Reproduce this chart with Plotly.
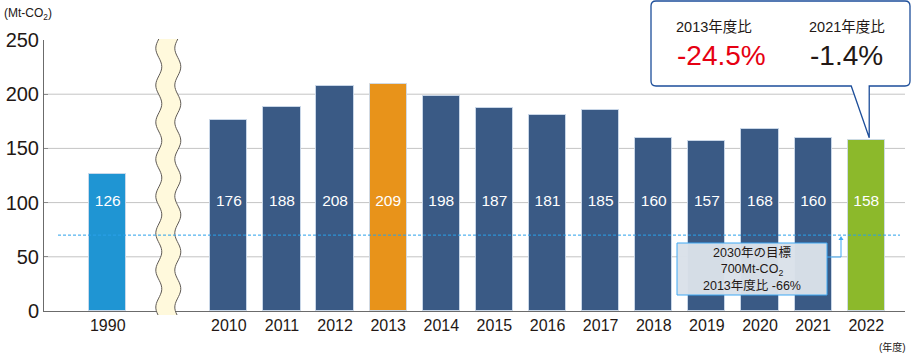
import math
import plotly.graph_objects as go

# ---------------- data ----------------
years = ["1990", "2010", "2011", "2012", "2013", "2014", "2015", "2016",
         "2017", "2018", "2019", "2020", "2021", "2022"]
emissions = [126, 176, 188, 208, 209, 198, 187, 181, 185, 160, 157, 168, 160, 158]
target_2030 = 70
y_ticks = [0, 50, 100, 150, 200, 250]
ratio_2013 = "-24.5%"
ratio_2021 = "-1.4%"
target_lines = ["2030年の目標", "700Mt-CO<sub>2</sub>", "2013年度比 -66%"]

# ---------------- layout helpers ----------------
W, H = 911, 355
ML, MR, MT, MB = 44, 6, 40, 44
PW, PH = W - ML - MR, H - MT - MB
Y_MAX = 250
GAP = 2.28                      # gap (in bar units) after 1990 for the axis break
xs = [0.0] + [GAP + i for i in range(len(years) - 1)]
X_RANGE = [-1.2, xs[-1] + 0.73]

def px_x(px):
    return (px - ML) / PW

def px_y(py):
    return (H - MB - py) / PH

def val_to_py(v):
    return H - MB - v / Y_MAX * PH

def x_to_px(x):
    return ML + (x - X_RANGE[0]) / (X_RANGE[1] - X_RANGE[0]) * PW

def color_for(year):
    if year == "1990":
        return "#1f95d3"
    if year == "2013":
        return "#e8931a"
    if year == "2022":
        return "#8cb92b"
    return "#3a5a85"

FONT = "Liberation Sans, Arial, Noto Sans CJK JP, sans-serif"
DARK = "#231815"

fig = go.Figure()
fig.add_trace(go.Bar(
    x=xs, y=emissions, width=0.7,
    marker=dict(color=[color_for(y) for y in years],
                line=dict(color="rgba(205,218,235,0.9)", width=1)),
    hoverinfo="skip", showlegend=False,
))
fig.add_trace(go.Scatter(
    x=xs, y=[100] * len(xs), mode="text",
    text=[str(v) for v in emissions],
    textfont=dict(color="white", size=15.5, family=FONT),
    hoverinfo="skip", showlegend=False,
))

shapes = []
# grid lines (no line at the top value)
for v in y_ticks:
    if 0 < v < Y_MAX:
        shapes.append(dict(type="line", xref="paper", yref="y", x0=0, x1=1, y0=v, y1=v,
                           line=dict(color="#c4c4c4", width=1), layer="below"))

# axis break (wavy band)
brk_c = (x_to_px(xs[0]) + x_to_px(xs[1])) / 2
top, bot = MT - 1, H - MB + 4
amp, period, half_w = 3.0, 37.0, 9.5
n = 120
left_pts, right_pts = [], []
for i in range(n + 1):
    py = top + (bot - top) * i / n
    off = amp * math.sin(2 * math.pi * (py - top) / period + math.pi)
    left_pts.append((brk_c - half_w + off, py))
    right_pts.append((brk_c + half_w + off, py))

def path_of(pts):
    return "M " + " L ".join(f"{px_x(a):.5f},{px_y(b):.5f}" for a, b in pts)

fill_path = path_of(left_pts + right_pts[::-1]) + " Z"
shapes.append(dict(type="path", xref="paper", yref="paper", path=fill_path,
                   fillcolor="#fff9dc", line=dict(width=0), layer="above"))
for pts in (left_pts, right_pts):
    shapes.append(dict(type="path", xref="paper", yref="paper", path=path_of(pts),
                       line=dict(color="#5f5a55", width=1), layer="above"))

# 2030 target dashed line
shapes.append(dict(type="line", xref="paper", yref="y", x0=px_x(58), x1=px_x(900),
                   y0=target_2030, y1=target_2030,
                   line=dict(color="#2aa1ea", width=1, dash="3px,2px"), layer="above"))

# target box + connector
bx0, bx1, by0, by1 = 677, 827, 243, 295
shapes.append(dict(type="rect", xref="paper", yref="paper",
                   x0=px_x(bx0), x1=px_x(bx1), y0=px_y(by0), y1=px_y(by1),
                   fillcolor="rgba(218,225,233,0.97)", line=dict(color="#3fa9f5", width=1),
                   layer="above"))
ty = val_to_py(target_2030)
cx = 841
shapes.append(dict(type="path", xref="paper", yref="paper",
                   path=f"M {px_x(bx1)},{px_y(257)} L {px_x(cx)},{px_y(257)} L {px_x(cx)},{px_y(ty + 4)}",
                   line=dict(color="#3fa9f5", width=1), layer="above"))
shapes.append(dict(type="path", xref="paper", yref="paper",
                   path=f"M {px_x(cx - 2.5)},{px_y(ty + 5)} L {px_x(cx + 2.5)},{px_y(ty + 5)} L {px_x(cx)},{px_y(ty + 1)} Z",
                   fillcolor="#3fa9f5", line=dict(width=0), layer="above"))

# callout box with pointer to the 2022 bar
tip_x = x_to_px(xs[-1]) + 3
tip_y = val_to_py(emissions[-1]) - 2
L, R, T, B, r = 651, 910, 1, 86, 5
pts = [
    f"M {px_x(L + r)},{px_y(T)}",
    f"L {px_x(R - r)},{px_y(T)}",
    f"Q {px_x(R)},{px_y(T)} {px_x(R)},{px_y(T + r)}",
    f"L {px_x(R)},{px_y(B - r)}",
    f"Q {px_x(R)},{px_y(B)} {px_x(R - r)},{px_y(B)}",
    f"L {px_x(tip_x)},{px_y(B)}",
    f"L {px_x(tip_x)},{px_y(tip_y)}",
    f"L {px_x(tip_x - 18)},{px_y(B)}",
    f"L {px_x(L + r)},{px_y(B)}",
    f"Q {px_x(L)},{px_y(B)} {px_x(L)},{px_y(B - r)}",
    f"L {px_x(L)},{px_y(T + r)}",
    f"Q {px_x(L)},{px_y(T)} {px_x(L + r)},{px_y(T)} Z",
]
shapes.append(dict(type="path", xref="paper", yref="paper", path=" ".join(pts),
                   fillcolor="white", line=dict(color="#1d4e9a", width=1.3), layer="above"))

annotations = [
    dict(text="(Mt-CO<sub>2</sub>)", x=px_x(2), y=px_y(14), xanchor="left", yanchor="middle",
         font=dict(size=12, color=DARK, family=FONT)),
    dict(text="(年度)", x=px_x(908), y=px_y(347), xanchor="right", yanchor="middle",
         font=dict(size=10, color=DARK, family=FONT)),
    dict(text="2013年度比", x=px_x(714), y=px_y(27), xanchor="center", yanchor="middle",
         font=dict(size=14.5, color=DARK, family=FONT)),
    dict(text=ratio_2013, x=px_x(721), y=px_y(56), xanchor="center", yanchor="middle",
         font=dict(size=28, color="#e60012", family=FONT)),
    dict(text="2021年度比", x=px_x(847), y=px_y(27), xanchor="center", yanchor="middle",
         font=dict(size=14.5, color=DARK, family=FONT)),
    dict(text=ratio_2021, x=px_x(846), y=px_y(56), xanchor="center", yanchor="middle",
         font=dict(size=28, color=DARK, family=FONT)),
    dict(text="<br>".join(target_lines), x=px_x((bx0 + bx1) / 2), y=px_y((by0 + by1) / 2),
         xanchor="center", yanchor="middle", borderpad=0,
         font=dict(size=12.5, color=DARK, family=FONT)),
]
for a in annotations:
    a.update(xref="paper", yref="paper", showarrow=False)

fig.update_layout(
    width=W, height=H,
    margin=dict(l=ML, r=MR, t=MT, b=MB, pad=0),
    paper_bgcolor="white", plot_bgcolor="white",
    bargap=0, showlegend=False,
    shapes=shapes, annotations=annotations,
    xaxis=dict(range=X_RANGE, tickvals=xs, ticktext=years, showgrid=False, zeroline=False,
               showline=True, linecolor="#6b6b6b", linewidth=1, ticks="",
               tickfont=dict(size=16, color=DARK, family=FONT), fixedrange=True),
    yaxis=dict(range=[0, Y_MAX], tickvals=y_ticks, showgrid=False, zeroline=False,
               showline=True, linecolor="#6b6b6b", linewidth=1,
               ticks="inside", ticklen=4, tickcolor="#8a8a8a",
               tickfont=dict(size=20, color=DARK, family=FONT), fixedrange=True),
)

fig.write_html("out.html", config={"displayModeBar": False},
               post_script="document.body.style.margin='0';")
